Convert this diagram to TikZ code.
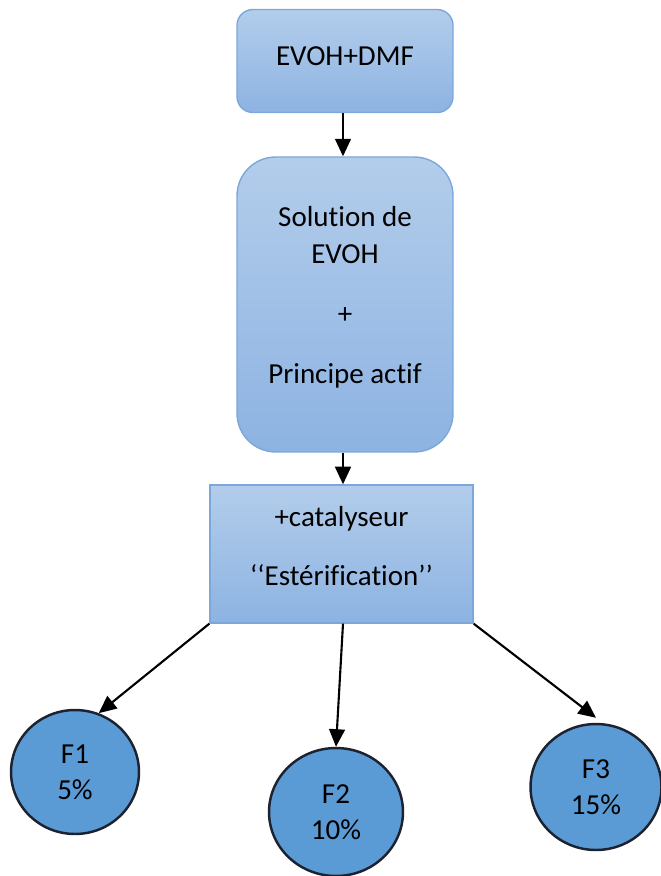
\documentclass[tikz,border=0pt]{standalone}
\usepackage{fontspec}
\setmainfont{Carlito}[Ligatures={NoCommon}]
\usepackage{tikz}
\usetikzlibrary{arrows.meta, positioning, shapes.geometric}
\definecolor{boxtop}{HTML}{B3CDEB}
\definecolor{boxbot}{HTML}{8DB3E2}
\definecolor{boxline}{HTML}{7BA7DB}
\definecolor{discfill}{HTML}{5B9BD5}
\definecolor{discline}{HTML}{1C2230}

\begin{document}
\begin{tikzpicture}[x=0.02cm, y=-0.02cm,
    stage/.style={draw=boxline, line width=0.8pt, top color=boxtop, bottom color=boxbot,
                  align=center, font=\fontsize{16.5}{21.5}\selectfont, inner sep=0pt},
    disc/.style={ellipse, draw=discline, line width=1.4pt, fill=discfill,
                 align=center, font=\fontsize{16.5}{20.5}\selectfont, inner sep=0pt},
    arr/.style={-{Triangle[length=10pt, width=9pt]}, line width=1.2pt}
  ]
    \useasboundingbox (0,0) rectangle (661,876);
    \node[stage, rounded corners=9pt, minimum width=4.32cm, minimum height=2.06cm,
          text depth=0.2cm] (mix) at (345,61) {EVOH+DMF};
    \node[stage, rounded corners=22pt, minimum width=4.32cm, minimum height=5.9cm,
          text depth=0.39cm] (sol) at (345,304.5)
      {Solution de\\EVOH\\[0.44cm]+\\[0.44cm]Principe actif};
    \node[stage, minimum width=5.26cm, minimum height=2.76cm, text depth=0.32cm]
      (cat) at (341.5,554) {+catalyseur\\[0.44cm]‘‘Estérification’’};
    \node[disc, minimum width=2.56cm, minimum height=2.48cm] (f1) at (75,772) {F1\\5\%};
    \node[disc, minimum width=2.68cm, minimum height=2.56cm] (f2) at (336,812) {F2\\10\%};
    \node[disc, minimum width=2.62cm, minimum height=2.52cm] (f3) at (596,787) {F3\\15\%};
    \draw[arr] (mix.south -| 343,0) -- (sol.north -| 343,0);
    \draw[arr] (sol.south -| 343,0) -- (cat.north -| 343,0);
    \draw[arr] (cat.south west) -- (f1.68);
    \draw[arr] (cat.south -| 343,0) -- (f2.north);
    \draw[arr] (cat.south east) -- ([yshift=0.1cm]f3.north);
  \end{tikzpicture}
\end{document}
